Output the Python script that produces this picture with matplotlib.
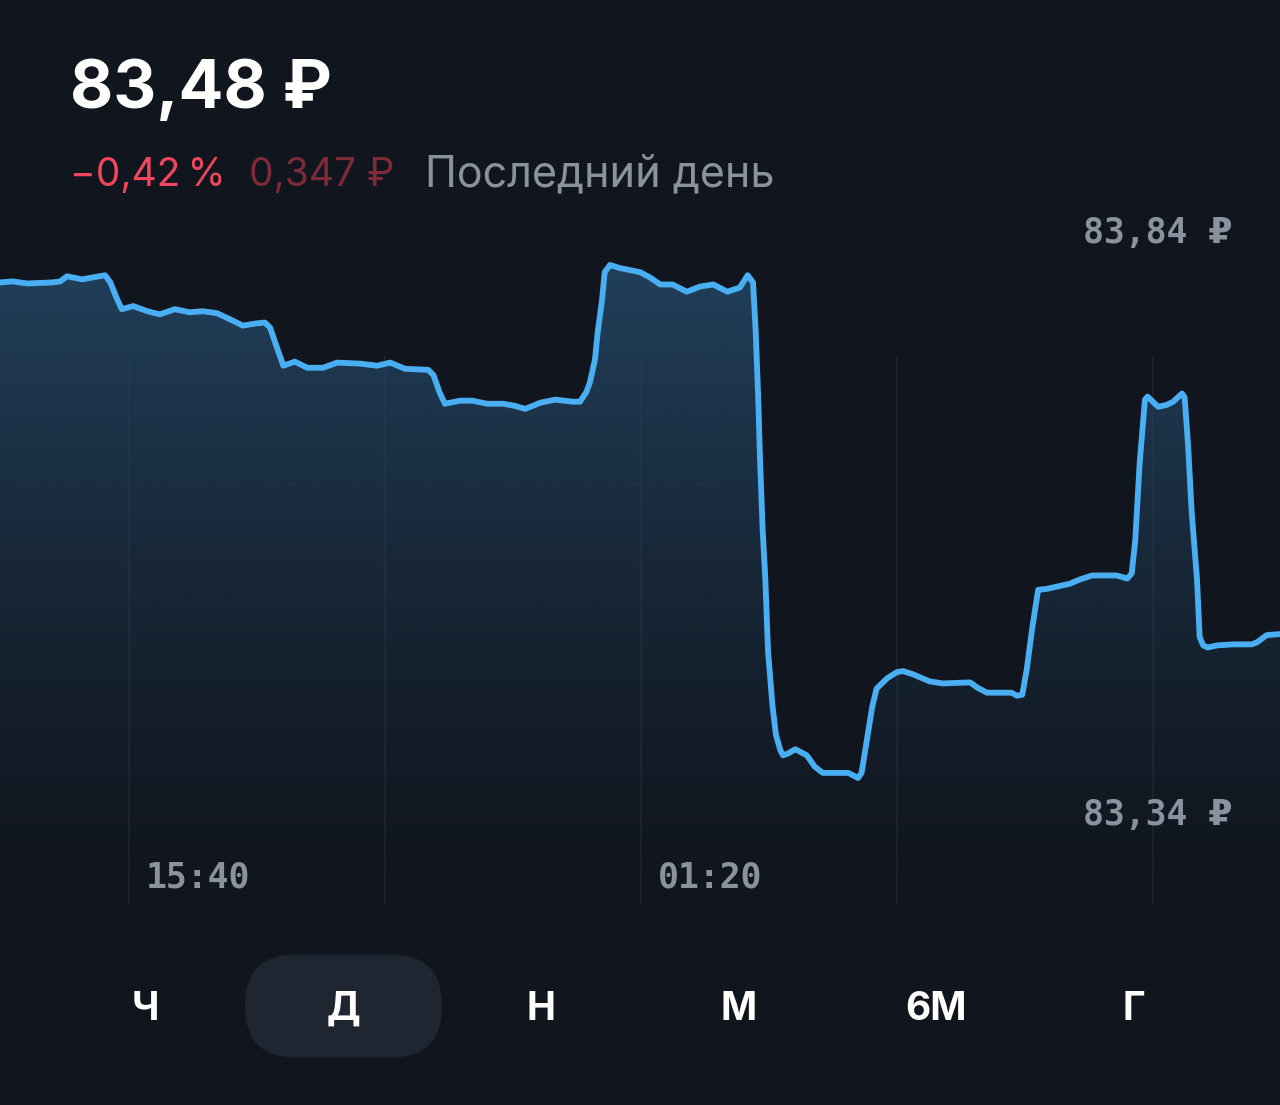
import numpy as np
import matplotlib.pyplot as plt
from matplotlib.colors import to_rgb
from matplotlib.patches import FancyBboxPatch

# minutes since chart start (13:14) and price
minutes = [0, 14, 31, 59, 68, 76, 93, 119, 125, 133, 138, 151, 167, 181, 198,
           215, 230, 246, 261, 275, 289, 300, 306, 314, 321, 334, 348, 366, 382,
           408, 427, 442, 459, 485, 491, 498, 504, 521, 535, 552, 570, 583, 595,
           612, 629, 649, 657, 664, 668, 674, 677, 682, 685, 691, 702, 725, 736,
           748, 762, 778, 793, 808, 824, 838, 847, 853, 856, 859, 861, 864, 867,
           870, 875, 879, 884, 887, 893, 901, 914, 923, 932, 948, 961, 972, 976,
           982, 988, 993, 1005, 1016, 1023, 1034, 1053, 1068, 1099, 1107, 1118,
           1141, 1146, 1152, 1158, 1163, 1169, 1176, 1186, 1212, 1223, 1237, 1265,
           1277, 1282, 1286, 1291, 1297, 1300, 1306, 1312, 1322, 1329, 1339, 1342,
           1346, 1350, 1356, 1359, 1363, 1368, 1379, 1397, 1418, 1424, 1435, 1450]
prices = [83.822, 83.823, 83.821, 83.822, 83.823, 83.828, 83.825, 83.829, 83.822,
          83.805, 83.796, 83.799, 83.794, 83.791, 83.796, 83.793, 83.794, 83.792,
          83.786, 83.780, 83.782, 83.783, 83.778, 83.758, 83.741, 83.745, 83.739,
          83.739, 83.744, 83.743, 83.741, 83.744, 83.738, 83.737, 83.732, 83.715,
          83.704, 83.707, 83.707, 83.704, 83.704, 83.702, 83.699, 83.705, 83.708,
          83.706, 83.706, 83.715, 83.724, 83.747, 83.773, 83.805, 83.832, 83.839,
          83.836, 83.832, 83.827, 83.820, 83.820, 83.813, 83.818, 83.820, 83.813,
          83.817, 83.829, 83.822, 83.776, 83.708, 83.649, 83.581, 83.533, 83.464,
          83.411, 83.382, 83.367, 83.362, 83.364, 83.368, 83.362, 83.351, 83.345,
          83.345, 83.345, 83.340, 83.345, 83.377, 83.409, 83.427, 83.437, 83.443,
          83.444, 83.441, 83.434, 83.432, 83.433, 83.428, 83.423, 83.423, 83.423,
          83.420, 83.421, 83.445, 83.484, 83.523, 83.524, 83.529, 83.533, 83.537,
          83.537, 83.534, 83.539, 83.571, 83.646, 83.708, 83.711, 83.706, 83.701,
          83.703, 83.706, 83.714, 83.710, 83.662, 83.598, 83.533, 83.477, 83.469,
          83.467, 83.469, 83.470, 83.470, 83.472, 83.479, 83.480]

grid_minutes = [146, 436, 726, 1016, 1306]
tick_minutes = [146, 726]
tick_labels = ['15:40', '01:20']
max_label = '83,84 ₽'
min_label = '83,34 ₽'
price_text = '83,48 ₽'
change_pct = '−0,42\u2009%'
change_abs = '0,347 ₽'
period_text = 'Последний день'
tabs = ['Ч', 'Д', 'Н', 'М', '6М', 'Г']

BG = '#11151d'
LINE = '#4aaef2'
FILL = '#22425f'
MUTED = '#8b929e'

W, H = 1280, 1105
fig = plt.figure(figsize=(W / 100, H / 100), dpi=100, facecolor=BG)

def fx(x):
    return x / W

def fy(y):
    return 1 - y / H

ax = fig.add_axes([0, fy(905), 1, (905 - 230) / H])
ax.set_facecolor(BG)
y_lo, y_hi = 83.2165, 83.873
ax.set_xlim(0, 1450)
ax.set_ylim(y_lo, y_hi)
ax.axis('off')

# faint vertical grid
ax.vlines(grid_minutes, y_lo, 83.75, color='#1a212c', lw=1.6, zorder=0)

# gradient area under the line
grad = np.linspace(0, 1, 300)[:, None]
rgba = np.zeros((300, 1, 4))
rgba[..., :3] = to_rgb(FILL)
rgba[..., 3] = grad ** 1.3 * 0.95
im = ax.imshow(rgba, extent=[0, 1450, y_lo, max(prices)], origin='lower',
               aspect='auto', zorder=1, interpolation='bilinear')
poly = ax.fill_between(minutes, prices, y_lo, color='none', lw=0)
im.set_clip_path(poly.get_paths()[0], transform=ax.transData)
ax.set_ylim(y_lo, y_hi)

ax.plot(minutes, prices, color=LINE, lw=4.2, solid_joinstyle='round',
        solid_capstyle='round', zorder=3)

mono = dict(family=['DejaVu Sans Mono', 'DejaVu Sans'], weight='bold',
            color=MUTED, fontsize=25)
fig.text(fx(1232), fy(243), max_label, ha='right', va='baseline', **mono)
fig.text(fx(1232), fy(825), min_label, ha='right', va='baseline', **mono)
for m, lab in zip(tick_minutes, tick_labels):
    fig.text(fx(m / 1450 * W + 17), fy(888), lab, ha='left', va='baseline', **mono)

# header
fig.text(fx(70), fy(108), price_text, ha='left', va='baseline', fontsize=48,
         weight='bold', color='white', family=['Inter', 'DejaVu Sans'])
sub = dict(ha='left', va='baseline', family=['Inter', 'DejaVu Sans'])
fig.text(fx(70), fy(186), change_pct, color='#f0475f', fontsize=28, **sub)
fig.text(fx(249), fy(186), change_abs, color='#7d2b3b', fontsize=28, **sub)
fig.text(fx(425), fy(186), period_text, color=MUTED, fontsize=31, **sub)

# period tabs
tab_x = [145, 343, 541, 739, 936, 1134]
pill = FancyBboxPatch((fx(245) + 0.035, fy(1057) + 0.04), fx(442 - 245) - 0.07,
                      (1057 - 955) / H - 0.08,
                      boxstyle='round,pad=0.035,rounding_size=0.04',
                      transform=fig.transFigure, fc='#1f2632', ec='none',
                      mutation_aspect=W / H)
fig.patches.append(pill)
for x, lab in zip(tab_x, tabs):
    fig.text(fx(x), fy(1020), lab, ha='center', va='baseline', fontsize=28,
             weight='bold', color='white', family=['Inter', 'DejaVu Sans'])

fig.savefig('out.png', dpi=100, facecolor=BG)
